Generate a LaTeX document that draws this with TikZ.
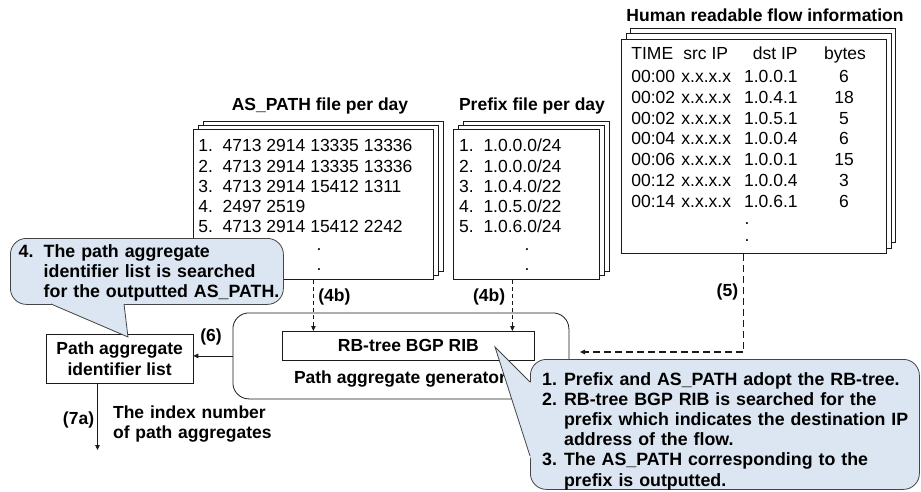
\documentclass[tikz,border=0pt]{standalone}
\usepackage{fontspec}
\setmainfont{Liberation Sans}
\usetikzlibrary{positioning,arrows.meta,calc}
\definecolor{callbg}{HTML}{DCE6F2}
\definecolor{callline}{HTML}{454545}
\definecolor{ink}{HTML}{1A1A1A}

\begin{document}
\begin{tikzpicture}[x=1pt,y=-1pt,font=\fontsize{17.5}{20.5}\selectfont,line width=0.8pt,
  page/.style={draw=ink,fill=white,anchor=north west,inner sep=0pt},
  box/.style={draw=ink,anchor=north west,inner sep=0pt,font=\fontsize{17.5}{20.5}\selectfont\bfseries},
  txt/.style={anchor=base west,inner sep=0pt},
  entry/.style={txt,font=\fontsize{17.5}{20}\selectfont},
  lbl/.style={anchor=base,inner sep=0pt,font=\fontsize{17.5}{20.5}\selectfont\bfseries},
  callbox/.style={draw=callline,fill=callbg,rounded corners=16pt,anchor=north west,inner sep=0pt},
  calltext/.style={anchor=base west,inner sep=0pt,align=left,font=\fontsize{17.8}{20.2}\selectfont\bfseries},
  arr/.style={-{Triangle[length=5pt,width=4.5pt]},draw=ink},
  dash4/.style={arr,dash pattern=on 4.5pt off 2.5pt},
  dash5/.style={arr,line width=1.2pt,dash pattern=on 7pt off 4pt}]
  \useasboundingbox (0,0) rectangle (921,492);

  % file titles
  \node[lbl] (astitle) at (320,111) {AS\_PATH file per day};
  \node[lbl] (pxtitle) at (532,111) {Prefix file per day};
  \node[lbl] (fltitle) at (765,22) {Human readable flow information};

  % stacked pages
  \foreach \k in {2,1}{
    \node[page,minimum width=240pt,minimum height=150pt] (asback\k) at ({193+5*\k},{129-4*\k}) {};
    \node[page,minimum width=146pt,minimum height=150pt] (pxback\k) at ({453+5*\k},{129-4*\k}) {};
    \node[page,minimum width=265pt,minimum height=214pt] (flback\k) at ({621+4.5*\k},{39-5.5*\k}) {};
  }
  \node[page,minimum width=240pt,minimum height=150pt] (asfile) at (193,129) {};
  \node[page,minimum width=146pt,minimum height=150pt] (pxfile) at (453,129) {};
  \node[page,minimum width=265pt,minimum height=214pt] (flfile) at (621,39) {};

  % AS_PATH list
  \foreach \p [count=\i] in {4713 2914 13335 13336,4713 2914 13335 13336,
      4713 2914 15412 1311,2497 2519,4713 2914 15412 2242}
    \node[entry] (as\i) at (198,{132+20*\i}) {\i.\ \ \p};
  \node[entry,anchor=base] (asdot1) at (319,250) {.};
  \node[entry,anchor=base] (asdot2) at (319,270) {.};

  % prefix list
  \foreach \p [count=\i] in {1.0.0.0/24,1.0.0.0/24,1.0.4.0/22,1.0.5.0/22,1.0.6.0/24}
    \node[entry] (px\i) at (458.8,{132+20*\i}) {\i.\ \ \p};
  \node[entry,anchor=base] (pxdot1) at (527,250) {.};
  \node[entry,anchor=base] (pxdot2) at (527,270) {.};

  % flow table
  \node[txt] (tmhead) at (631,60) {TIME};
  \node[txt] (srchead) at (683,60) {src IP};
  \node[txt,anchor=base east] (dsthead) at (798,60) {dst IP};
  \node[txt,anchor=base] (nbhead) at (845,60) {bytes};
  \foreach \tm/\dst/\nb [count=\i] in {00:00/1.0.0.1/6,00:02/1.0.4.1/18,00:02/1.0.5.1/5,
      00:04/1.0.0.4/6,00:06/1.0.0.1/15,00:12/1.0.0.4/3,00:14/1.0.6.1/6}{
    \node[txt] (tm\i) at (631,{61.8+20.8*\i}) {\tm};
    \node[txt] (src\i) at (681,{61.8+20.8*\i}) {x.x.x.x};
    \node[txt,anchor=base east] (dst\i) at (798,{61.8+20.8*\i}) {\dst};
    \node[txt,anchor=base] (nb\i) at (844,{61.8+20.8*\i}) {\nb};
  }
  \node[txt,anchor=base] (fldot1) at (747,224) {.};
  \node[txt,anchor=base] (fldot2) at (747,241) {.};

  % generator and list
  \node[draw=ink,rounded corners=16pt,anchor=north west,inner sep=0pt,
    minimum width=336pt,minimum height=86pt] (gen) at (232.5,312.5) {};
  \node[box,minimum width=252pt,minimum height=29pt] (rib) at (282,331) {RB-tree BGP RIB};
  \node[lbl] (genname) at (400,383) {Path aggregate generator};
  \node[box,align=center,minimum width=146.5pt,minimum height=48.5pt] (pal) at (46,334)
    {Path aggregate\\identifier list};

  % connectors
  \draw[dash4] (asfile.south) -- (asfile.south |- rib.north);
  \draw[dash4] ([xshift=-14pt]pxfile.south) -- ([xshift=-14pt]pxfile.south |- rib.north);
  \coordinate (genin) at (580,352);
  \draw[dash5] ([xshift=-10.5pt]flfile.south) |- (genin);
  \draw[arr] (gen.west) -- (gen.west -| pal.east);
  \coordinate (out7) at (97.5,450);
  \draw[arr] (pal.south -| out7) -- (out7);

  \node[lbl,anchor=base west] (l4a) at (318,301.5) {(4b)};
  \node[lbl,anchor=base east] (l4b) at (505.5,301.5) {(4b)};
  \node[lbl,anchor=base east] (l5) at (738.5,296) {(5)};
  \node[lbl] (l6) at (211,341) {(6)};
  \node[lbl,anchor=base east] (l7) at (94.5,424) {(7a)};
  \node[lbl,anchor=base west,align=left,text width=180pt] (idx) at (112.7,418.3)
    {The index number\\of path aggregates};

  % callout 4
  \node[callbox,minimum width=273pt,minimum height=66pt] (note4) at (10,238) {};
  \coordinate (tip4) at (128,337);
  \coordinate (b41) at (51,304);
  \coordinate (b42) at (124,304);
  \fill[callbg] ($(tip4)!1.05!(b41)$) -- (tip4) -- ($(tip4)!1.05!(b42)$) -- cycle;
  \draw[callline] (b41) -- (tip4) -- (b42);
  \node[calltext,text width=270pt] (note4txt) at (18.3,257.5)
    {\makebox[25pt][l]{4.}The path aggregate\\
     \hspace*{25pt}identifier list is searched\\
     \hspace*{25pt}for the outputted AS\_PATH.};

  % callout 1-3
  \node[callbox,minimum width=389pt,minimum height=130pt] (note1) at (530,359) {};
  \coordinate (tip1) at (495,347);
  \coordinate (b11) at (530,382);
  \coordinate (b12) at (530,456);
  \fill[callbg] ($(tip1)!1.05!(b11)$) -- (tip1) -- ($(tip1)!1.05!(b12)$) -- cycle;
  \draw[callline] (b11) -- (tip1) -- (b12);
  \node[calltext,text width=370pt] (note1txt) at (541.7,385)
    {\makebox[22pt][l]{1.}Prefix and AS\_PATH adopt the RB-tree.\\
     \makebox[22pt][l]{2.}RB-tree BGP RIB is searched for the\\
     \hspace*{22pt}prefix which indicates the destination IP\\
     \hspace*{22pt}address of the flow.\\
     \makebox[22pt][l]{3.}The AS\_PATH corresponding to the\\
     \hspace*{22pt}prefix is outputted.};
\end{tikzpicture}
\end{document}
